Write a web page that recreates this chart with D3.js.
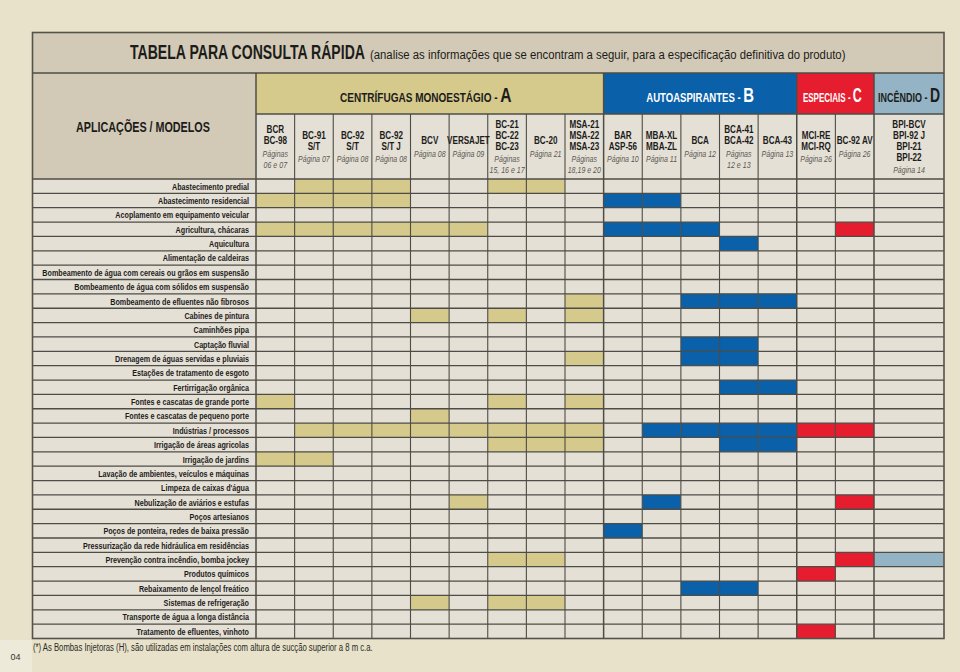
<!DOCTYPE html>
<html>
<head>
<meta charset="utf-8">
<script src="https://cdn.jsdelivr.net/npm/d3@7"></script>
<style>
  html,body{margin:0;padding:0;background:#e8e2ca;}
  svg{display:block;}
</style>
</head>
<body>
<script>
// ---------------- DATA ----------------
const titleMain = "TABELA PARA CONSULTA RÁPIDA";
const titleSub = "(analise as informações que se encontram a seguir, para a especificação definitiva do produto)";
const cornerLabel = "APLICAÇÕES / MODELOS";
const footnote = "(*) As Bombas Injetoras (H), são utilizadas em instalações com altura de sucção superior a 8 m c.a.";
const pageNumber = "04";

const groupNames = ["CENTRÍFUGAS MONOESTÁGIO - ", "AUTOASPIRANTES - ", "ESPECIAIS - ", "INCÊNDIO - "];
const groupLetters = ["A", "B", "C", "D"];
const groupSizes = [9, 5, 2, 1];

const modelNames = [
  ["BCR", "BC-98"], ["BC-91", "S/T"], ["BC-92", "S/T"], ["BC-92", "S/T J"], ["BCV"], ["VERSAJET"],
  ["BC-21", "BC-22", "BC-23"], ["BC-20"], ["MSA-21", "MSA-22", "MSA-23"],
  ["BAR", "ASP-56"], ["MBA-XL", "MBA-ZL"], ["BCA"], ["BCA-41", "BCA-42"], ["BCA-43"],
  ["MCI-RE", "MCI-RQ"], ["BC-92 AV"],
  ["BPI-BCV", "BPI-92 J", "BPI-21", "BPI-22"]
];
const modelPages = [
  ["Páginas", "06 e 07"], ["Página 07"], ["Página 08"], ["Página 08"], ["Página 08"], ["Página 09"],
  ["Páginas", "15, 16 e 17"], ["Página 21"], ["Páginas", "18,19 e 20"],
  ["Página 10"], ["Página 11"], ["Página 12"], ["Páginas", "12 e 13"], ["Página 13"],
  ["Página 26"], ["Página 26"],
  ["Página 14"]
];

const applications = [
  "Abastecimento predial",
  "Abastecimento residencial",
  "Acoplamento em equipamento veicular",
  "Agricultura, chácaras",
  "Aquicultura",
  "Alimentação de caldeiras",
  "Bombeamento de água com cereais ou grãos em suspensão",
  "Bombeamento de água com sólidos em suspensão",
  "Bombeamento de efluentes não fibrosos",
  "Cabines de pintura",
  "Caminhões pipa",
  "Captação fluvial",
  "Drenagem de águas servidas e pluviais",
  "Estações de tratamento de esgoto",
  "Fertirrigação orgânica",
  "Fontes e cascatas de grande porte",
  "Fontes e cascatas de pequeno porte",
  "Indústrias / processos",
  "Irrigação de áreas agricolas",
  "Irrigação de jardins",
  "Lavação de ambientes, veículos e máquinas",
  "Limpeza de caixas d'água",
  "Nebulização de aviários e estufas",
  "Poços artesianos",
  "Poços de ponteira, redes de baixa pressão",
  "Pressurização da rede hidráulica em residências",
  "Prevenção contra incêndio, bomba jockey",
  "Produtos químicos",
  "Rebaixamento de lençol freático",
  "Sistemas de refrigeração",
  "Transporte de água a longa distância",
  "Tratamento de efluentes, vinhoto"
];

// models (column indices) recommended for each application
const usage = [
  [1, 2, 3, 6, 7],
  [0, 1, 2, 3, 9, 10],
  [],
  [0, 1, 2, 3, 4, 5, 9, 10, 11, 15],
  [12],
  [],
  [],
  [],
  [8, 11, 12, 13],
  [4, 6, 8],
  [],
  [11, 12],
  [8, 11, 12],
  [],
  [12, 13],
  [0, 6, 8],
  [4],
  [1, 2, 3, 4, 5, 6, 7, 8, 10, 11, 12, 13, 14, 15],
  [6, 7, 8, 12, 13],
  [0, 1],
  [],
  [],
  [5, 10, 15],
  [],
  [9],
  [],
  [6, 7, 15, 16],
  [14],
  [11, 12],
  [4, 6, 7],
  [],
  [14]
];

// ---------------- LAYOUT / STYLE ----------------
const W = 960, H = 672;
const L = { left: 32.5, right: 944, top: 32.5, titleB: 73, groupB: 114, headB: 179, bottom: 638.5, labelR: 256, lastL: 874 };
const C = {
  page: "#e8e2ca", pageBox: "#eeead9", titleBg: "#d2cab6", cellBg: "#e5e0d6", line: "#4e4c46",
  text: "#1c1c1a", pageText: "#5a5853",
  group: ["#d5c98c", "#0a60a9", "#e51d2e", "#94b4c5"],
  groupText: ["#1c1c1a", "#ffffff", "#ffffff", "#1c1c1a"]
};
const FONT = "'Liberation Sans', Arial, Helvetica, sans-serif";

const nCols = modelNames.length;
const colIdx = d3.range(nCols);
const groupOf = [];
groupSizes.forEach((s, g) => { for (let i = 0; i < s; i++) groupOf.push(g); });

const xEdge = d3.scaleLinear().domain([0, nCols - 1]).range([L.labelR, L.lastL]);
const colX0 = i => xEdge(i);
const colX1 = i => (i < nCols - 1 ? xEdge(i + 1) : L.right);

const y = d3.scaleBand().domain(applications).range([L.headB, L.bottom]).padding(0);

const svg = d3.select("body").append("svg").attr("width", W).attr("height", H)
  .style("font-family", FONT);

svg.append("rect").attr("width", W).attr("height", H).attr("fill", C.page);
svg.append("rect").attr("x", 0).attr("y", 640).attr("width", 32).attr("height", 32).attr("fill", C.pageBox);

// backgrounds
svg.append("rect").attr("x", L.left).attr("y", L.top).attr("width", L.right - L.left).attr("height", L.titleB - L.top).attr("fill", C.titleBg);
svg.append("rect").attr("x", L.left).attr("y", L.titleB).attr("width", L.labelR - L.left).attr("height", L.headB - L.titleB).attr("fill", C.titleBg);
svg.append("rect").attr("x", L.labelR).attr("y", L.groupB).attr("width", L.right - L.labelR).attr("height", L.headB - L.groupB).attr("fill", C.cellBg);
svg.append("rect").attr("x", L.left).attr("y", L.headB).attr("width", L.right - L.left).attr("height", L.bottom - L.headB).attr("fill", C.cellBg);

// group header cells
const groupSpans = [];
{
  let start = 0;
  groupSizes.forEach((s, g) => { groupSpans.push({ g, x0: colX0(start), x1: colX1(start + s - 1) }); start += s; });
}
svg.selectAll("rect.group").data(groupSpans).join("rect").attr("class", "group")
  .attr("x", d => d.x0).attr("y", L.titleB).attr("width", d => d.x1 - d.x0).attr("height", L.groupB - L.titleB)
  .attr("fill", d => C.group[d.g]);

// filled cells
const cells = [];
usage.forEach((cols, r) => cols.forEach(c => cells.push({ r, c })));
svg.selectAll("rect.cell").data(cells).join("rect").attr("class", "cell")
  .attr("x", d => colX0(d.c)).attr("y", d => y(applications[d.r]))
  .attr("width", d => colX1(d.c) - colX0(d.c)).attr("height", y.bandwidth())
  .attr("fill", d => C.group[groupOf[d.c]]);

// grid lines
const gl = svg.append("g").attr("stroke", C.line).attr("fill", "none");
applications.forEach((a, i) => {
  if (i === 0) return;
  gl.append("line").attr("x1", L.left).attr("x2", L.right).attr("y1", y(a)).attr("y2", y(a)).attr("stroke-width", 1.3);
});
gl.append("line").attr("x1", L.left).attr("x2", L.right).attr("y1", L.headB).attr("y2", L.headB).attr("stroke-width", 1.4);
gl.append("line").attr("x1", L.labelR).attr("x2", L.right).attr("y1", L.groupB).attr("y2", L.groupB).attr("stroke-width", 1.4);
gl.append("line").attr("x1", L.left).attr("x2", L.right).attr("y1", L.titleB).attr("y2", L.titleB).attr("stroke-width", 1.4);
colIdx.forEach(i => {
  const isGroupStart = i === 0 || groupOf[i] !== groupOf[i - 1];
  gl.append("line").attr("x1", colX0(i)).attr("x2", colX0(i))
    .attr("y1", isGroupStart ? L.titleB : L.groupB).attr("y2", L.bottom)
    .attr("stroke-width", isGroupStart ? 1.5 : 1.1);
});
gl.append("rect").attr("x", L.left).attr("y", L.top).attr("width", L.right - L.left).attr("height", L.bottom - L.top)
  .attr("stroke-width", 1.6).attr("stroke", "#55524b");

// ---------------- TEXT ----------------
function squeezeTo(sel, x, yy, target, anchor) {
  sel.attr("x", 0).attr("y", 0).attr("text-anchor", anchor || "start");
  const w = sel.node().getComputedTextLength();
  const k = target / w;
  sel.attr("transform", `translate(${x},${yy}) scale(${k},1)`);
}

// title
const tt = svg.append("text").attr("fill", C.text).attr("font-weight", "bold").attr("font-size", 19.5).text(titleMain);
squeezeTo(tt, 130, 59, 235, "start");
const ts = svg.append("text").attr("fill", C.text).attr("font-size", 13.5).text(titleSub);
squeezeTo(ts, 370, 59, 476, "start");

// corner label
const cl = svg.append("text").attr("fill", C.text).attr("font-weight", "bold").attr("font-size", 14).text(cornerLabel);
squeezeTo(cl, (76 + 210) / 2, 131.5, 134, "middle");

// group headers
const groupTargets = [172, 108, 59, 62];
groupSpans.forEach(d => {
  const t = svg.append("text").attr("fill", C.groupText[d.g]).attr("font-weight", "bold");
  t.append("tspan").attr("font-size", 13.5).text(groupNames[d.g]);
  t.append("tspan").attr("font-size", 21).text(groupLetters[d.g]);
  squeezeTo(t, (d.x0 + d.x1) / 2 - (d.g === 2 ? 3 : 0) - (d.g === 0 ? 4 : 0), 101.5, groupTargets[d.g], "middle");
});

// column headers
colIdx.forEach(i => {
  const lines = modelNames[i].map(t => ({ t, kind: "n" })).concat(modelPages[i].map(t => ({ t, kind: "p" })));
  let pos = 0;
  lines.forEach((ln, j) => {
    if (j > 0) pos += (ln.kind === lines[j - 1].kind ? 11 : 12.5);
    ln.off = pos;
  });
  const first = 150.3 - pos / 2;
  const cx = (colX0(i) + colX1(i)) / 2;
  lines.forEach(ln => {
    const t = svg.append("text").text(ln.t).attr("text-anchor", "middle");
    if (ln.kind === "n") {
      t.attr("font-weight", "bold").attr("font-size", 10.8).attr("fill", C.text);
      t.attr("transform", `translate(${cx},${first + ln.off}) scale(0.75,1)`);
    } else {
      t.attr("font-style", "italic").attr("font-size", 8.8).attr("fill", C.pageText);
      t.attr("transform", `translate(${cx},${first + ln.off}) scale(0.8,1)`);
    }
  });
});

// row labels
const rl = svg.append("g").selectAll("text").data(applications).join("text")
  .attr("text-anchor", "end").attr("font-weight", "bold").attr("font-size", 9.8).attr("fill", C.text)
  .text(d => d);
let maxW = 0;
rl.each(function () { maxW = Math.max(maxW, this.getComputedTextLength()); });
const kRow = 207 / maxW;
rl.attr("transform", d => `translate(249,${y(d) + y.bandwidth() / 2 + 3.5}) scale(${kRow},1)`);

// footnote
const fn = svg.append("text").attr("font-size", 10).attr("fill", "#2a2a28").text(footnote);
squeezeTo(fn, 33, 651, 340, "start");

// page number
svg.append("text").attr("x", 15.5).attr("y", 660).attr("text-anchor", "middle").attr("font-size", 9).attr("fill", "#333")
  .text(pageNumber);
</script>
</body>
</html>
